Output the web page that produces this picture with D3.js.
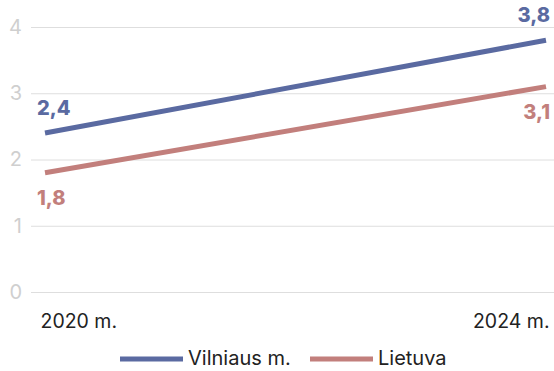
<!DOCTYPE html>
<html><head><meta charset="utf-8">
<script src="https://cdn.jsdelivr.net/npm/d3@7"></script>
<style>
body{margin:0;background:#fff;}
text{font-family:Inter,"Noto Sans",sans-serif;}
</style></head>
<body><svg id="c" width="554" height="371"></svg>
<script>
const categories = ["2020 m.", "2024 m."];
const seriesNames = ["Vilniaus m.", "Lietuva"];
const vilnius = [2.4, 3.8];
const lietuva = [1.8, 3.1];
const yTicks = [0, 1, 2, 3, 4];
const colors = ["#5a6aa1", "#c27f7c"];

const svg = d3.select("#c");
const x = d3.scalePoint().domain(categories).range([45, 546]);
const y = d3.scaleLinear().domain([0, 4]).range([292, 27]);
const series = [
  {name: seriesNames[0], values: vilnius, color: colors[0], labelDy: -18},
  {name: seriesNames[1], values: lietuva, color: colors[1], labelDy: 32}
];

// grid + y labels
const gy = svg.append("g").attr("transform", "translate(31,0)")
  .call(d3.axisLeft(y).tickValues(yTicks).tickSize(-523).tickPadding(9).tickFormat(d3.format("d")));
gy.select(".domain").remove();
gy.selectAll(".tick line").attr("stroke", "#dedede").attr("stroke-width", 1);
gy.selectAll(".tick text").attr("fill", "#cfcfcf").attr("font-size", 20).attr("font-family", "Inter,sans-serif");

// x labels
const gx = svg.append("g").attr("transform", "translate(0,292)")
  .call(d3.axisBottom(x).tickSize(0).tickPadding(0));
gx.select(".domain").remove();
gx.selectAll(".tick text").attr("fill", "#222").attr("font-size", 19.5).attr("font-family", "Inter,sans-serif")
  .attr("dy", 36)
  .attr("text-anchor", (d, i) => i === 0 ? "start" : "end")
  .attr("dx", (d, i) => i === 0 ? -5 : 3);

// lines
const line = d3.line().x((d, i) => x(categories[i])).y(d => y(d));
series.forEach(s => {
  svg.append("path").datum(s.values).attr("d", line)
    .attr("fill", "none").attr("stroke", s.color).attr("stroke-width", 5);
  svg.selectAll(null).data(s.values).enter().append("text")
    .attr("x", (d, i) => x(categories[i]) + (i === 0 ? -8 : 4))
    .attr("y", d => y(d) + s.labelDy)
    .attr("text-anchor", (d, i) => i === 0 ? "start" : "end")
    .attr("fill", s.color).attr("font-weight", 800).attr("font-size", 20)
    .text(d => d3.format(".1f")(d).replace(".", ","));
});

// legend
const legend = [{x: 120}, {x: 310}];
series.forEach((s, i) => {
  const g = svg.append("g").attr("transform", `translate(${legend[i].x},359)`);
  g.append("line").attr("x1", 0).attr("x2", 63).attr("y1", 0).attr("y2", 0)
    .attr("stroke", s.color).attr("stroke-width", 5);
  g.append("text").attr("x", 68).attr("y", 6).attr("font-size", 20).attr("fill", "#222").text(s.name);
});
</script></body></html>
